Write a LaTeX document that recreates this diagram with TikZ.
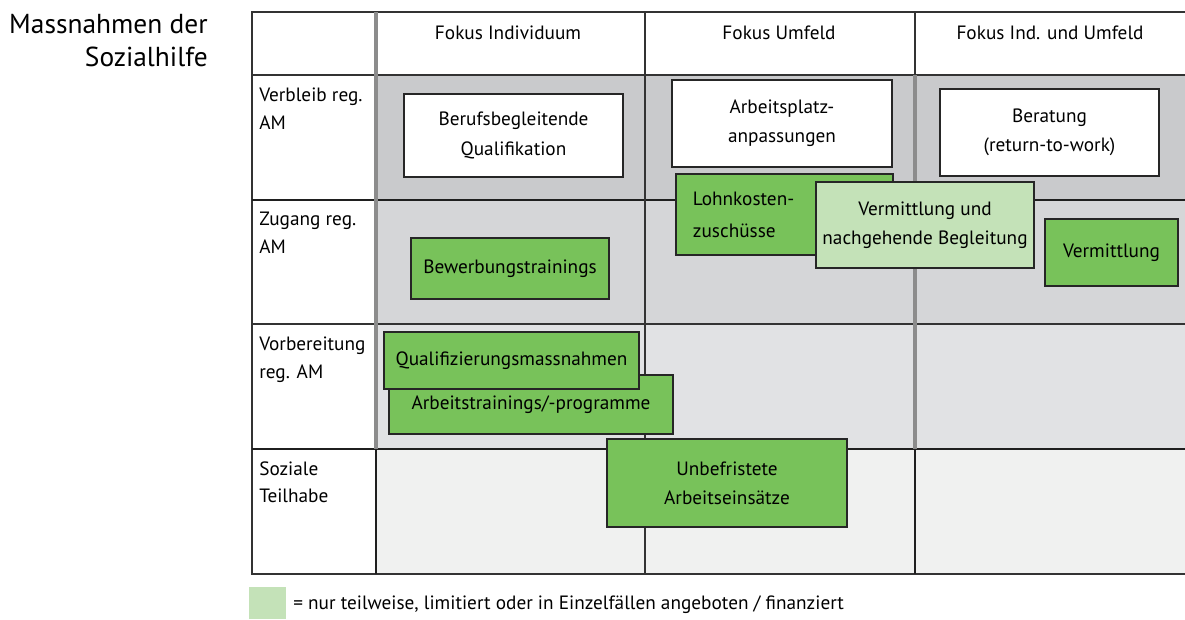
\documentclass[tikz,border=0pt]{standalone}
\usepackage{fontspec}
\setmainfont{PT Sans}
\usetikzlibrary{positioning}
\definecolor{rowverbleib}{HTML}{C9CACC}
\definecolor{rowzugang}{HTML}{D5D6D8}
\definecolor{rowvorb}{HTML}{E1E2E4}
\definecolor{rowsozial}{HTML}{F0F1F0}
\definecolor{measgreen}{HTML}{78C25A}
\definecolor{palegreen}{HTML}{C4E2B8}
\newcommand{\boxfont}{\fontsize{13.7}{20.8}\selectfont}
\newcommand{\labelfont}{\fontsize{13.7}{19.4}\selectfont}

\begin{document}
\begin{tikzpicture}[
	x=0.025cm, y=-0.025cm,
	gridline/.style={draw=black!80, line width=0.8pt},
	heavyline/.style={draw=black!88, line width=1.9pt},
	greyline/.style={draw=black!45, line width=2.2pt},
	whitebox/.style={rectangle, draw=black!85, fill=white, line width=0.9pt,
		align=center, inner sep=0pt, font=\boxfont},
	greenbox/.style={whitebox, fill=measgreen},
	palebox/.style={whitebox, fill=palegreen},
	rowlabel/.style={anchor=north west, align=left, inner sep=0pt, font=\labelfont},
	colhead/.style={font=\labelfont}
	]
	\useasboundingbox (0,0) rectangle (1185,619);
	
	% row shading
	\fill[rowverbleib] (376,75) rectangle (1185,200);
	\fill[rowzugang] (376,200) rectangle (1185,324);
	\fill[rowvorb] (376,324) rectangle (1185,449);
	\fill[rowsozial] (376,449) rectangle (1185,574);
	
	% grid
	\draw[gridline] (1185,12) -- (252,12) -- (252,574) -- (1185,574);
	\draw[gridline] (252,75) -- (1185,75);
	\draw[gridline] (252,324) -- (1185,324);
	\draw[heavyline] (252,200) -- (1185,200);
	\draw[heavyline] (252,449) -- (1185,449);
	\draw[greyline] (376,12) -- (376,449);
	\draw[heavyline] (376,449) -- (376,574);
	\draw[gridline] (645,12) -- (645,574);
	\draw[gridline] (915,12) -- (915,75);
	\draw[greyline] (915,75) -- (915,449);
	\draw[heavyline] (915,449) -- (915,574);
	
	\node[align=right, anchor=north east, inner sep=0pt,
		font=\fontsize{19.5}{23.5}\selectfont] (title) at (208,14) {Massnahmen der\\Sozialhilfe};
	
	\node[colhead] (hdInd) at (508,33) {Fokus Individuum};
	\node[colhead] (hdUmf) at (779,33) {Fokus Umfeld};
	\node[colhead] (hdBoth) at (1050,33) {Fokus Ind. und Umfeld};
	
	\node[rowlabel] (rowVerbleib) at (259,88) {Verbleib reg.\\AM};
	\node[rowlabel] (rowZugang) at (259,212) {Zugang reg.\\AM};
	\node[rowlabel] (rowVorb) at (259,337) {Vorbereitung\\reg. AM};
	\node[rowlabel] (rowSozial) at (259,461) {Soziale\\Teilhabe};
	
	% measures
	\node[whitebox, minimum width=5.475cm, minimum height=2.075cm] (berufsbegl) at (513.5,135.5)
		{Berufsbegleitende\\Qualifikation};
	\node[whitebox, minimum width=5.5cm, minimum height=2.175cm] (arbplatz) at (782,123.5)
		{Arbeitsplatz-\\anpassungen};
	\node[whitebox, minimum width=5.475cm, minimum height=2.175cm] (beratung) at (1049.5,132.5)
		{Beratung\\(return-to-work)};
	\node[greenbox, minimum width=5.425cm, minimum height=2.025cm, align=left,
		text width=4.575cm] (lohnkosten) at (784.5,214.5) {Lohnkosten-\\[2pt]zuschüsse};
	\node[palebox, minimum width=5.45cm, minimum height=2.15cm] (vermbegl) at (925,225)
		{Vermittlung und\\nachgehende Begleitung};
	\node[greenbox, minimum width=3.325cm, minimum height=1.675cm] (vermittlung) at (1111.5,252.5)
		{Vermittlung};
	\node[greenbox, minimum width=4.95cm, minimum height=1.525cm] (bewerbung) at (510,268.5)
		{Bewerbungstrainings};
	\node[greenbox, minimum width=7.1cm, minimum height=1.475cm] (arbtraining) at (531,404.5)
		{Arbeitstrainings/-programme};
	\node[greenbox, minimum width=6.375cm, minimum height=1.425cm] (qualif) at (511.5,360.5)
		{Qualifizierungsmassnahmen};
	\node[greenbox, minimum width=6cm, minimum height=2.2cm] (unbefristet) at (727,483)
		{Unbefristete\\Arbeitseinsätze};
	
	% legend
	\node[fill=palegreen, minimum width=0.925cm, minimum height=0.8cm, inner sep=0pt] (legsquare) at (267.5,603) {};
	\node[anchor=west, inner sep=0pt, font=\labelfont] (legtext) at (293,605)
		{= nur teilweise, limitiert oder in Einzelfällen angeboten / finanziert};
\end{tikzpicture}
\end{document}
